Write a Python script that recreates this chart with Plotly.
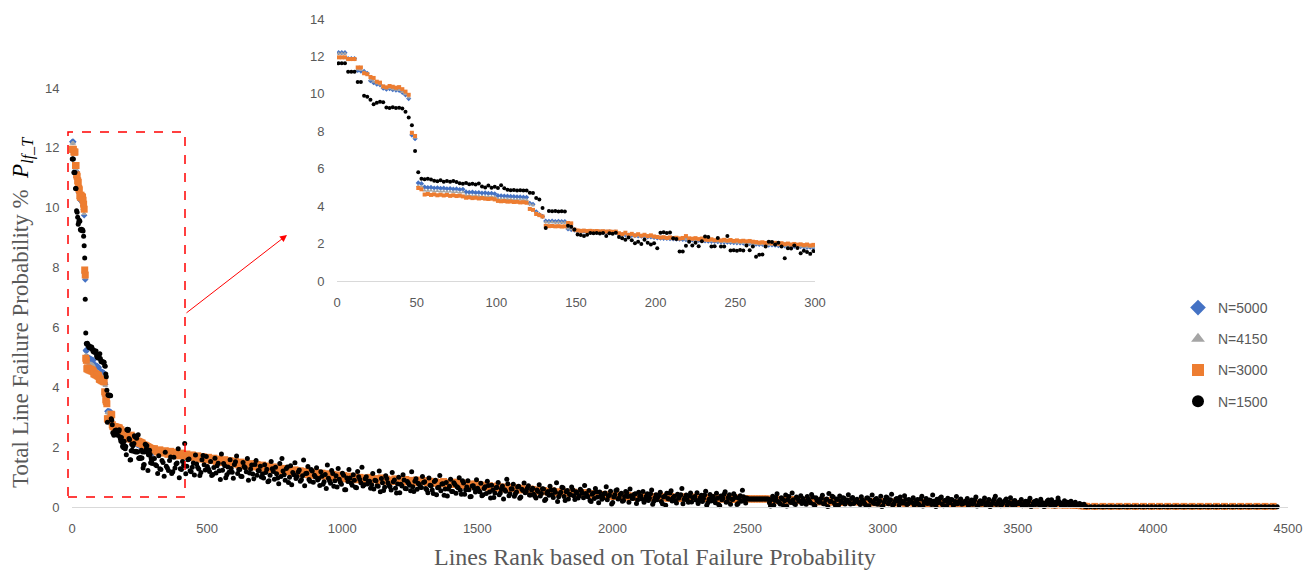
import plotly.graph_objects as go

# ---------------- data (ranks and failure probabilities in %) ----------------
series_names = ["N=5000", "N=4150", "N=3000", "N=1500"]

rank_head = list(range(1, 300, 2))            # ranks 1..299
rank_body_1500_a = list(range(305, 3746, 8))
rank_body_1500_b = list(range(309, 3750, 8))
rank_body_3000 = list(range(305, 3746, 10))
rank_body_hi = list(range(305, 3726, 30))
rank_zero_1500 = list(range(3755, 4461, 15))
rank_zero_hi = list(range(3755, 4446, 30))

head_5000 = [12.20,12.20,12.20,11.88,11.88,11.88,11.25,11.22,11.20,11.10,
 10.70,10.60,10.52,10.48,10.30,10.25,10.28,10.22,10.20,10.18,
 10.08,9.95,9.75,7.80,7.60,
 5.24,5.20,
 5.02,4.99,5.00,4.97,4.98,4.95,4.96,4.93,4.94,4.91,4.92,4.89,4.90,
 4.76,4.74,4.75,4.72,4.73,4.70,4.71,4.68,4.69,4.66,
 4.56,4.55,4.54,4.53,4.52,4.51,4.50,4.49,4.48,4.47,
 4.15,4.10,3.70,3.55,3.45,
 3.20,3.19,3.20,3.18,3.19,3.17,3.18,
 2.78,2.75,2.72,
 2.66,2.65,2.66,2.64,2.65,2.63,2.64,2.62,2.63,2.61,2.62,2.60,2.61,
 2.50,2.48,2.47,2.45,2.44,2.42,2.41,2.39,2.38,2.36,2.35,2.33,
 2.30,2.29,2.28,2.27,2.26,2.25,2.24,2.23,2.22,2.21,2.20,2.19,2.18,2.17,2.16,
 2.14,2.13,2.12,2.11,2.10,2.09,2.08,2.07,2.06,2.05,2.04,2.03,2.02,2.01,2.00,
 1.98,1.97,1.95,1.96,1.94,1.92,1.93,1.91,1.89,1.90,1.88,1.86,1.87,1.85,1.83,1.84,1.82,1.80,1.81,1.79]

head_4150 = [12.15,12.15,12.15,11.85,11.85,11.85,11.30,11.28,11.15,11.08,
 10.75,10.65,10.55,10.50,10.32,10.28,10.30,10.25,10.22,10.20,
 10.10,9.98,9.80,7.85,7.65,
 5.08,5.05,
 4.84,4.82,4.83,4.80,4.81,4.78,4.79,4.77,4.78,4.75,4.76,4.73,4.74,
 4.58,4.57,4.56,4.55,4.54,4.53,4.52,4.51,4.50,4.49,
 4.40,4.39,4.38,4.38,4.37,4.36,4.35,4.35,4.34,4.33,
 4.10,4.05,3.65,3.50,3.40,
 3.15,3.14,3.15,3.13,3.14,3.12,3.13,
 2.80,2.77,2.73,
 2.67,2.66,2.67,2.65,2.66,2.64,2.65,2.63,2.64,2.62,2.63,2.61,2.62,
 2.52,2.49,2.48,2.46,2.45,2.43,2.42,2.40,2.39,2.37,2.36,2.34,
 2.31,2.30,2.29,2.28,2.27,2.26,2.25,2.24,2.23,2.22,2.21,2.20,2.19,2.18,2.17,
 2.15,2.14,2.13,2.12,2.11,2.10,2.09,2.08,2.07,2.06,2.05,2.04,2.03,2.02,2.01,
 1.99,1.98,1.96,1.97,1.95,1.93,1.94,1.92,1.90,1.91,1.89,1.87,1.88,1.86,1.84,1.85,1.83,1.81,1.82,1.80]

head_3000 = [11.95,11.95,11.95,11.86,11.86,11.86,11.41,11.41,11.10,11.05,
 10.90,10.85,10.65,10.60,10.40,10.35,10.42,10.38,10.33,10.36,
 10.25,10.12,9.95,7.92,7.75,
 4.97,4.90,
 4.62,4.65,4.60,4.63,4.58,4.61,4.57,4.60,4.55,4.58,4.54,4.56,4.52,
 4.45,4.47,4.43,4.45,4.41,4.43,4.40,4.38,4.40,4.36,
 4.28,4.26,4.27,4.24,4.25,4.22,4.23,4.20,4.21,4.18,
 3.85,3.80,3.58,3.52,3.45,
 2.95,2.93,2.94,2.92,2.93,2.91,2.92,
 3.10,3.08,2.75,
 2.70,2.68,2.69,2.67,2.68,2.66,2.67,2.65,2.66,2.64,2.65,2.63,2.64,
 2.55,2.50,2.58,2.46,2.52,2.44,2.50,2.42,2.47,2.40,2.44,2.38,
 2.35,2.32,2.34,2.30,2.33,2.29,2.31,2.27,2.30,2.40,2.28,2.26,2.29,2.24,2.27,
 2.22,2.20,2.23,2.18,2.21,2.17,2.20,2.16,2.19,2.14,2.17,2.13,2.15,2.12,2.14,
 2.10,2.08,2.05,2.07,2.03,2.06,2.01,2.04,1.99,2.02,1.97,2.00,1.95,1.98,1.94,1.96,1.92,1.95,1.90,1.93]

head_1500 = [11.63,11.63,11.63,11.18,11.18,11.18,10.64,10.64,9.90,9.85,
 9.68,9.45,9.52,9.58,9.55,9.27,9.25,9.28,9.24,9.26,
 9.22,9.05,8.73,8.32,6.94,
 5.81,5.46,5.44,5.47,5.42,
 5.36,5.33,5.38,5.31,5.34,5.30,5.35,5.29,
 5.22,5.19,5.24,5.17,5.20,5.16,5.21,
 5.05,5.00,5.10,4.98,5.03,4.97,5.12,4.96,
 4.87,4.85,4.86,4.84,4.85,4.83,4.84,
 4.72,4.70,4.44,4.35,3.90,2.83,
 3.74,3.73,3.74,3.72,3.73,3.72,
 2.95,2.90,2.75,
 2.48,2.46,2.40,2.47,
 2.56,2.55,2.57,2.54,2.56,2.40,2.55,2.53,2.58,
 2.35,2.28,2.20,2.32,2.18,
 2.02,2.10,1.98,2.20,2.05,1.95,2.02,
 1.75,2.58,2.60,2.56,2.59,2.29,2.25,1.57,1.58,
 1.88,2.10,1.90,2.05,1.86,2.12,
 2.38,2.35,1.84,1.86,2.30,
 1.84,1.85,2.41,
 1.63,1.64,1.62,1.65,1.63,1.90,1.64,
 1.84,1.30,1.40,1.42,1.84,
 2.10,2.08,1.95,2.05,1.85,
 1.22,1.75,1.74,1.90,1.76,
 1.48,1.62,1.55,1.45,1.60]

body_5000 = [1.86,1.83,1.79,1.76,1.72,1.69,1.65,1.62,1.58,1.55,
 1.51,1.47,1.44,1.40,1.36,1.33,1.29,1.25,1.21,1.18,
 1.14,1.11,1.08,1.05,1.02,0.99,0.97,0.94,0.92,0.90,
 0.88,0.86,0.84,0.82,0.80,0.79,0.77,0.76,0.74,0.73,
 0.71,0.68,0.65,0.62,0.60,0.57,0.55,0.53,0.51,0.49,
 0.48,0.46,0.44,0.42,0.41,0.39,0.38,0.37,0.36,0.35,
 0.34,0.33,0.32,0.32,0.31,0.31,0.30,0.30,0.29,0.29,
 0.28,0.28,0.27,0.27,0.27,0.27,0.24,0.23,0.22,0.22,
 0.21,0.20,0.20,0.19,0.19,0.18,0.18,0.17,0.17,0.16,
 0.16,0.15,0.15,0.14,0.14,0.14,0.13,0.13,0.12,0.12,
 0.12,0.11,0.11,0.11,0.10,0.10,0.09,0.09,0.09,0.08,
 0.08,0.07,0.06,0.05,0.04]

body_4150 = [1.88,1.84,1.80,1.77,1.73,1.70,1.66,1.63,1.59,1.56,
 1.52,1.48,1.45,1.41,1.37,1.34,1.30,1.26,1.22,1.19,
 1.15,1.12,1.09,1.06,1.03,1.00,0.98,0.95,0.93,0.91,
 0.89,0.87,0.85,0.83,0.81,0.80,0.78,0.77,0.75,0.74,
 0.72,0.69,0.66,0.63,0.61,0.58,0.56,0.54,0.52,0.50,
 0.49,0.47,0.45,0.43,0.42,0.40,0.39,0.38,0.37,0.36,
 0.35,0.34,0.33,0.33,0.32,0.32,0.31,0.31,0.30,0.30,
 0.29,0.29,0.28,0.28,0.27,0.27,0.25,0.24,0.23,0.23,
 0.22,0.21,0.21,0.20,0.20,0.19,0.19,0.18,0.18,0.17,
 0.17,0.16,0.16,0.15,0.15,0.15,0.14,0.14,0.13,0.13,
 0.13,0.12,0.12,0.12,0.11,0.11,0.10,0.10,0.10,0.09,
 0.09,0.08,0.07,0.06,0.05]

body_3000 = [1.95,1.84,1.91,1.80,1.88,1.76,1.86,1.74,1.83,1.71,1.80,1.69,1.77,1.66,1.74,1.63,1.71,1.60,1.68,1.58,
 1.66,1.55,1.63,1.52,1.60,1.49,1.58,1.46,1.55,1.44,1.52,1.41,1.50,1.38,1.47,1.36,1.45,1.34,1.42,1.31,
 1.40,1.29,1.37,1.26,1.34,1.23,1.31,1.20,1.29,1.18,1.26,1.15,1.24,1.13,1.21,1.10,1.19,1.08,1.17,1.06,
 1.15,1.05,1.13,1.03,1.11,1.00,1.09,0.98,1.07,0.96,1.05,0.94,1.03,0.92,1.01,0.91,0.99,0.89,0.97,0.87,
 0.99,0.91,0.95,0.88,0.97,0.86,0.93,0.90,0.85,0.94,0.87,0.91,0.83,0.92,0.86,0.89,0.81,0.90,0.84,0.87,
 0.88,0.81,0.86,0.79,0.84,0.82,0.77,0.85,0.78,0.81,0.75,0.83,0.76,0.79,0.72,0.80,0.74,0.77,0.70,0.76,
 0.75,0.69,0.73,0.66,0.71,0.68,0.63,0.70,0.64,0.67,0.60,0.66,0.61,0.64,0.58,0.63,0.57,0.61,0.55,0.60,
 0.58,0.53,0.57,0.51,0.55,0.52,0.49,0.54,0.48,0.51,0.46,0.52,0.47,0.49,0.44,0.50,0.45,0.47,0.42,0.48,
 0.46,0.41,0.45,0.40,0.43,0.39,0.42,0.37,0.41,0.38,0.35,0.40,0.36,0.38,0.33,0.39,0.34,0.37,0.32,0.36,
 0.37,0.33,0.36,0.31,0.35,0.34,0.30,0.36,0.32,0.34,0.29,0.35,0.31,0.33,0.28,0.34,0.30,0.32,0.29,0.33,
 0.33,0.29,0.32,0.28,0.31,0.30,0.27,0.32,0.28,0.30,0.26,0.31,0.28,0.29,0.25,0.30,0.27,0.29,0.26,0.28,
 0.27,0.27,0.27,0.27,0.27,0.27,0.27,0.27,0.24,0.21,0.26,0.22,0.25,0.20,0.24,0.23,0.19,0.25,0.21,0.23,
 0.22,0.19,0.23,0.18,0.21,0.20,0.17,0.22,0.18,0.20,0.16,0.21,0.19,0.17,0.20,0.15,0.19,0.18,0.16,0.19,
 0.18,0.16,0.19,0.15,0.17,0.18,0.14,0.17,0.16,0.13,0.18,0.15,0.16,0.14,0.17,0.13,0.16,0.15,0.12,0.16,
 0.15,0.13,0.16,0.12,0.15,0.14,0.11,0.15,0.13,0.14,0.12,0.15,0.11,0.14,0.13,0.10,0.14,0.12,0.13,0.11,
 0.13,0.11,0.14,0.10,0.12,0.13,0.09,0.12,0.11,0.13,0.10,0.12,0.09,0.11,0.12,0.08,0.11,0.10,0.12,0.09,
 0.11,0.09,0.10,0.08,0.11,0.09,0.07,0.10,0.08,0.09,0.07,0.10,0.08,0.06,0.09,0.07,0.08,0.06,0.08,0.07,
 0.06,0.05,0.05,0.04,0.03]

body_1500_a = [1.62,1.38,1.71,1.25,1.49,1.83,1.30,1.55,1.12,1.66,1.44,1.95,1.28,1.52,2.12,1.36,1.60,1.18,1.47,1.74,1.33,1.05,1.58,1.41,1.69,
 1.27,1.52,1.09,1.63,1.38,1.21,1.77,1.45,0.98,1.34,1.58,1.16,1.42,1.70,1.25,1.03,1.49,1.31,1.62,1.14,1.40,0.94,1.55,1.22,1.36,
 1.10,1.41,1.26,0.88,1.52,1.19,1.33,0.97,1.45,1.62,1.08,1.29,0.82,1.38,1.15,1.48,1.02,1.24,0.91,1.57,1.12,1.35,0.86,1.20,1.06,
 1.31,0.95,1.18,0.76,1.09,1.40,0.88,1.22,0.69,1.04,1.29,0.83,1.13,0.58,0.97,1.25,0.80,1.08,0.66,1.19,0.92,1.33,0.74,1.01,0.86,
 0.63,1.12,0.89,0.71,1.20,0.95,0.55,1.04,0.81,0.68,1.15,0.90,0.47,0.99,0.76,1.08,0.62,0.85,0.73,1.18,0.52,0.94,0.79,0.66,1.02,
 0.84,0.58,0.97,0.71,0.45,0.89,0.64,1.05,0.77,0.39,0.82,0.60,0.93,0.52,0.75,0.68,0.98,0.43,0.80,0.57,0.88,0.34,0.70,0.62,0.91,
 0.55,0.79,0.41,0.68,0.86,0.50,0.73,0.32,0.64,0.82,0.47,0.70,0.58,0.93,0.38,0.61,0.76,0.44,0.67,0.29,0.59,0.80,0.52,0.71,0.40,
 0.63,0.36,0.57,0.74,0.45,0.60,0.26,0.52,0.69,0.41,0.58,0.81,0.34,0.49,0.64,0.22,0.55,0.43,0.67,0.38,0.51,0.30,0.59,0.46,0.72,
 0.40,0.55,0.18,0.47,0.62,0.33,0.50,0.26,0.44,0.68,0.37,0.53,0.15,0.41,0.58,0.30,0.46,0.22,0.52,0.35,0.60,0.28,0.43,0.12,0.49,
 0.38,0.52,0.24,0.44,0.30,0.57,0.19,0.41,0.34,0.49,0.11,0.36,0.46,0.27,0.54,0.32,0.21,0.43,0.38,0.62,0.25,0.40,0.16,0.47,0.31,
 0.35,0.48,0.20,0.39,0.28,0.53,0.14,0.42,0.33,0.24,0.46,0.08,0.37,0.29,0.51,0.18,0.41,0.26,0.44,0.32,0.12,0.38,0.56,0.22,0.30,
 0.27,0.27,0.27,0.27,0.27,0.27,0.27,0.27,0.27,0.27,0.03,0.36,0.22,0.44,0.15,0.31,0.05,0.40,0.25,0.18,0.47,0.12,0.33,0.21,0.38,
 0.28,0.14,0.35,0.20,0.42,0.08,0.31,0.24,0.17,0.39,0.11,0.27,0.45,0.19,0.33,0.06,0.25,0.37,0.15,0.29,0.22,0.41,0.10,0.32,0.18,
 0.26,0.13,0.34,0.19,0.07,0.30,0.23,0.40,0.12,0.28,0.16,0.36,0.04,0.24,0.31,0.18,0.43,0.10,0.27,0.21,0.33,0.14,0.38,0.08,0.25,
 0.20,0.31,0.11,0.25,0.06,0.36,0.17,0.28,0.13,0.22,0.40,0.09,0.26,0.18,0.33,0.04,0.21,0.29,0.14,0.24,0.08,0.35,0.16,0.27,0.12,
 0.19,0.28,0.09,0.23,0.14,0.33,0.05,0.21,0.17,0.30,0.11,0.25,0.03,0.20,0.36,0.13,0.24,0.08,0.18,0.27,0.15,0.31,0.06,0.22,0.12,
 0.16,0.25,0.07,0.19,0.12,0.29,0.04,0.18,0.22,0.10,0.26,0.14,0.03,0.20,0.11,0.24,0.08,0.17,0.30,0.13,0.05,0.21,0.15,0.09,0.19,
 0.10,0.16,0.05,0.12,0.07,0.09]

body_1500_b = [1.41,1.12,1.28,1.55,1.03,1.36,1.22,1.67,1.18,1.30,1.47,0.98,1.25,1.39,1.11,1.58,1.21,1.33,1.07,1.44,1.27,1.15,1.72,1.24,1.35,
 1.19,1.05,1.32,1.14,1.46,0.92,1.23,1.38,1.08,1.16,1.29,0.96,1.51,1.12,1.25,1.02,1.35,1.18,0.89,1.27,1.10,1.42,1.06,1.21,1.00,
 0.97,1.15,0.84,1.06,1.28,0.93,1.11,0.78,1.02,1.20,0.89,1.34,0.99,0.74,1.08,0.95,1.17,0.86,1.04,0.71,1.13,0.92,1.25,0.83,1.00,
 0.90,0.72,1.03,0.84,0.62,0.96,0.79,1.12,0.88,0.67,0.93,0.76,1.06,0.58,0.85,0.97,0.73,0.89,0.64,1.01,0.81,0.70,0.94,0.77,0.86,
 0.74,0.60,0.88,0.69,0.51,0.81,0.66,0.95,0.72,0.57,0.84,0.63,0.77,0.48,0.70,0.90,0.61,0.79,0.54,0.68,0.86,0.59,0.75,0.65,0.82,
 0.62,0.48,0.73,0.57,0.85,0.41,0.66,0.54,0.78,0.60,0.37,0.69,0.52,0.81,0.46,0.64,0.56,0.88,0.43,0.67,0.58,0.35,0.71,0.50,0.63,
 0.51,0.38,0.62,0.45,0.72,0.30,0.56,0.47,0.66,0.41,0.59,0.27,0.53,0.78,0.44,0.60,0.36,0.50,0.69,0.33,0.55,0.48,0.63,0.40,0.57,
 0.43,0.30,0.52,0.37,0.61,0.22,0.46,0.39,0.57,0.32,0.49,0.18,0.44,0.66,0.35,0.51,0.27,0.41,0.58,0.25,0.47,0.38,0.54,0.31,0.45,
 0.34,0.22,0.43,0.28,0.51,0.14,0.37,0.30,0.47,0.24,0.40,0.10,0.33,0.55,0.27,0.42,0.19,0.35,0.48,0.16,0.38,0.29,0.44,0.23,0.36,
 0.27,0.16,0.35,0.22,0.44,0.09,0.30,0.24,0.39,0.18,0.33,0.06,0.28,0.47,0.20,0.36,0.13,0.29,0.41,0.11,0.32,0.23,0.37,0.17,0.31,
 0.23,0.12,0.31,0.18,0.40,0.06,0.26,0.20,0.35,0.14,0.29,0.04,0.24,0.43,0.16,0.32,0.09,0.25,0.37,0.08,0.28,0.19,0.34,0.13,0.27,
 0.27,0.27,0.27,0.27,0.27,0.27,0.27,0.27,0.27,0.14,0.25,0.06,0.31,0.18,0.10,0.27,0.21,0.03,0.35,0.15,0.24,0.08,0.29,0.19,0.12,
 0.20,0.09,0.26,0.14,0.33,0.05,0.22,0.16,0.29,0.11,0.24,0.02,0.18,0.36,0.13,0.27,0.07,0.21,0.31,0.10,0.23,0.15,0.28,0.12,0.19,
 0.17,0.08,0.23,0.12,0.30,0.04,0.19,0.14,0.26,0.09,0.21,0.02,0.16,0.33,0.11,0.24,0.06,0.18,0.28,0.07,0.20,0.13,0.25,0.10,0.16,
 0.15,0.06,0.21,0.10,0.27,0.03,0.17,0.12,0.23,0.08,0.19,0.02,0.14,0.30,0.09,0.22,0.05,0.16,0.25,0.07,0.18,0.11,0.22,0.09,0.14,
 0.13,0.05,0.18,0.09,0.24,0.03,0.15,0.10,0.20,0.07,0.16,0.02,0.12,0.27,0.08,0.19,0.04,0.14,0.22,0.06,0.15,0.09,0.19,0.08,0.12,
 0.11,0.04,0.15,0.07,0.20,0.02,0.12,0.08,0.17,0.05,0.13,0.02,0.10,0.23,0.06,0.15,0.03,0.11,0.18,0.05,0.12,0.07,0.16,0.06,0.09,
 0.07,0.04,0.09,0.03,0.06,0.02]

zero_1500 = [0.01,0.01,0.01,0.01,0.01,0.01,0.01,0.01,0.01,0.01,0.01,0.01,
 0.01,0.01,0.01,0.01,0.01,0.01,0.01,0.01,0.01,0.01,0.01,0.01,
 0.01,0.01,0.01,0.01,0.01,0.01,0.01,0.01,0.01,0.01,0.01,0.01,
 0.01,0.01,0.01,0.01,0.01,0.01,0.01,0.01,0.01,0.01,0.01,0.01]
zero_3000 = [0.02,0.02,0.02,0.02,0.02,0.02,0.02,0.02,0.02,0.02,0.02,0.02,
 0.02,0.02,0.02,0.02,0.02,0.02,0.02,0.02,0.02,0.02,0.02,0.02]
zero_4150 = [0.02,0.02,0.02,0.02,0.02,0.02,0.02,0.02,0.02,0.02,0.02,0.02,
 0.02,0.02,0.02,0.02,0.02,0.02,0.02,0.02,0.02,0.02,0.02,0.02]
zero_5000 = [0.02,0.02,0.02,0.02,0.02,0.02,0.02,0.02,0.02,0.02,0.02,0.02,
 0.02,0.02,0.02,0.02,0.02,0.02,0.02,0.02,0.02,0.02,0.02,0.02]

x_ticks_main = [0, 500, 1000, 1500, 2000, 2500, 3000, 3500, 4000, 4500]
x_ticks_inset = [0, 50, 100, 150, 200, 250, 300]
y_ticks = [0, 2, 4, 6, 8, 10, 12, 14]

# ---------------- assemble series ----------------
body_1500_pairs = sorted(list(zip(rank_body_1500_a, body_1500_a)) + list(zip(rank_body_1500_b, body_1500_b)))
assert len(rank_body_1500_a) == len(body_1500_a) and len(rank_body_1500_b) == len(body_1500_b)
rank_body_1500 = [p[0] for p in body_1500_pairs]
body_1500 = [p[1] for p in body_1500_pairs]

series = {
    "N=5000": (rank_head + rank_body_hi + rank_zero_hi, head_5000 + body_5000 + zero_5000),
    "N=4150": (rank_head + rank_body_hi + rank_zero_hi, head_4150 + body_4150 + zero_4150),
    "N=3000": (rank_head + rank_body_3000 + rank_zero_hi, head_3000 + body_3000 + zero_3000),
    "N=1500": (rank_head + rank_body_1500 + rank_zero_1500, head_1500 + body_1500 + zero_1500),
}
for k, (xs, ys) in series.items():
    assert len(xs) == len(ys), (k, len(xs), len(ys))

style = {
    "N=5000": dict(color="#4472C4", symbol="diamond", size=5),
    "N=4150": dict(color="#A5A5A5", symbol="triangle-up", size=5),
    "N=3000": dict(color="#ED7D31", symbol="square", size=7),
    "N=1500": dict(color="#000000", symbol="circle", size=5),
}

fig = go.Figure()
for name in series_names:
    xs, ys = series[name]
    st = style[name]
    fig.add_trace(go.Scatter(
        x=xs, y=ys, mode="markers", name=name, legendgroup=name,
        marker=dict(color=st["color"], symbol=st["symbol"], size=st["size"], line=dict(width=0)),
        cliponaxis=False, xaxis="x", yaxis="y"))
for name in series_names:
    xs, ys = series[name]
    st = style[name]
    fig.add_trace(go.Scatter(
        x=xs, y=ys, mode="markers", name=name, legendgroup=name, showlegend=False,
        marker=dict(color=st["color"], symbol=st["symbol"], size=4, line=dict(width=0)),
        xaxis="x2", yaxis="y2"))

tick_font = dict(family="Liberation Sans, Arial, sans-serif", size=13, color="#595959")
axis_common = dict(showgrid=False, zeroline=False, ticks="outside", ticklen=9, automargin=False,
                   tickcolor="rgba(0,0,0,0)", tickfont=tick_font)

W, H = 1312, 574
L, R, T, B = 72, 24, 8, 67
pw, ph = W - L - R, H - T - B
def px(xp):
    return (xp - L) / pw
def py(yp):
    return (H - B - yp) / ph

ymax_main = 14 * ph / (507 - 88)

fig.update_layout(
    width=W, height=H, autosize=False,
    margin=dict(l=L, r=R, t=T, b=B, pad=0, autoexpand=False),
    paper_bgcolor="white", plot_bgcolor="rgba(0,0,0,0)",
    showlegend=True,
    xaxis=dict(range=[0, 4500], tickvals=x_ticks_main, showline=True, linecolor="#D9D9D9",
               linewidth=1, **axis_common),
    yaxis=dict(range=[0, ymax_main], tickvals=y_ticks, showline=False, **axis_common),
    xaxis2=dict(domain=[px(337), px(815)], anchor="y2", range=[0, 300], tickvals=x_ticks_inset,
                showline=True, linecolor="#D9D9D9", linewidth=1, **axis_common),
    yaxis2=dict(domain=[py(281), py(19)], anchor="x2", range=[0, 14], tickvals=y_ticks,
                showline=False, **axis_common),
    legend=dict(x=px(1178), y=py(292), xanchor="left", yanchor="top",
                font=dict(family="Liberation Sans, Arial, sans-serif", size=14, color="#595959"),
                itemsizing="constant", tracegroupgap=10, bgcolor="rgba(0,0,0,0)", itemwidth=30),
    shapes=[dict(type="rect", xref="paper", yref="paper",
                 x0=px(68), x1=px(185), y0=py(497), y1=py(132),
                 line=dict(color="#FF0000", width=1.5, dash="dash"))],
    annotations=[
        dict(text="Total Line Failure Probability %  <span style='color:#000'><i>P</i><sub><i>lf_T</i></sub></span>",
             xref="paper", yref="paper", x=px(22), y=py(313), xanchor="center", yanchor="middle",
             textangle=-90, showarrow=False,
             font=dict(family="Liberation Serif, Times New Roman, serif", size=23, color="#595959")),
        dict(text="Lines Rank based on Total Failure Probability",
             xref="paper", yref="paper", x=px(655), y=py(557), xanchor="center", yanchor="middle",
             showarrow=False,
             font=dict(family="Liberation Serif, Times New Roman, serif", size=24, color="#595959")),
        dict(text="", xref="paper", yref="paper", x=px(287), y=py(235),
             axref="pixel", ayref="pixel", ax=185 - 287, ay=314 - 235,
             showarrow=True, arrowhead=2, arrowsize=1.4, arrowwidth=1, arrowcolor="#FF0000"),
    ],
)

fig.write_html("out.html")
